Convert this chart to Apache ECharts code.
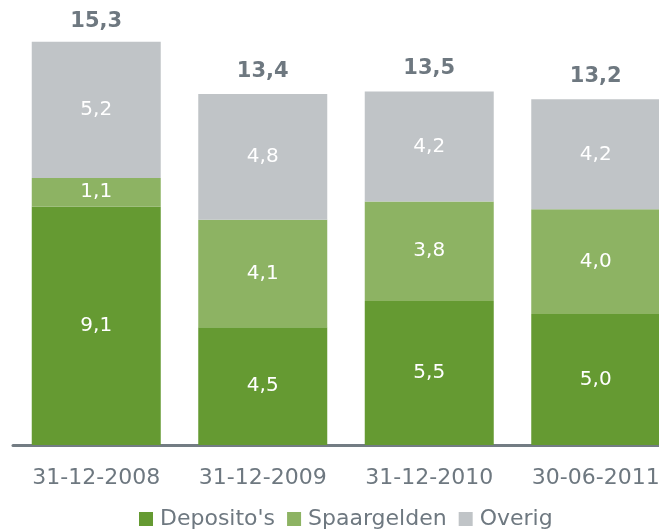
<!DOCTYPE html>
<html>
<head>
<meta charset="utf-8">
<script src="https://cdn.jsdelivr.net/npm/echarts@6/dist/echarts.min.js"></script>
<style>html,body{margin:0;padding:0;background:#fff}#c{width:659px;height:532px}</style>
</head>
<body>
<div id="c"></div>
<script>
const categories = ['31-12-2008', '31-12-2009', '31-12-2010', '30-06-2011'];
const deposito = [9.1, 4.5, 5.5, 5.0];
const spaargelden = [1.1, 4.1, 3.8, 4.0];
const overig = [5.2, 4.8, 4.2, 4.2];
const totals = [15.3, 13.4, 13.5, 13.2];

const FONT = 'DejaVu Sans';
const TXT = '#6E7880';
const fmt = v => v.toFixed(1).replace('.', ',');

const chart = echarts.init(document.getElementById('c'));
const seg = (name, data, color) => ({
  name, type: 'bar', stack: 'a', data, barWidth: 129,
  itemStyle: { color },
  label: { show: true, position: 'inside', color: '#fff', fontFamily: FONT, fontSize: 20,
    formatter: p => fmt(p.value) },
  emphasis: { disabled: true }
});
chart.setOption({
  animation: false,
  grid: { left: 13, width: 666, top: 26, height: 419, outerBoundsMode: 'none', containLabel: false },
  legend: {
    data: ["Deposito's", 'Spaargelden', 'Overig'],
    left: 134, top: 503, itemWidth: 14, itemHeight: 14, itemGap: 12, icon: 'rect',
    textStyle: { color: TXT, fontFamily: FONT, fontSize: 22, padding: [0, 0, 0, 2] }
  },
  xAxis: {
    type: 'category', data: categories,
    axisLine: { lineStyle: { color: '#737C83', width: 3 } },
    axisTick: { show: false },
    axisLabel: { color: TXT, fontFamily: FONT, fontSize: 22, margin: 22, interval: 0 }
  },
  yAxis: { type: 'value', min: 0, max: 16, show: false, splitLine: { show: false } },
  series: [
    seg("Deposito's", deposito, '#659A32'),
    seg('Spaargelden', spaargelden, '#8DB363'),
    seg('Overig', overig, '#C0C4C7'),
    {
      name: 'Totaal', type: 'bar', data: totals, barWidth: 129, barGap: '-100%',
      itemStyle: { color: 'rgba(0,0,0,0)' }, silent: true, z: 1,
      label: { show: true, position: 'top', distance: 12, color: TXT, fontFamily: FONT,
        fontSize: 21, fontWeight: 'bold', formatter: p => fmt(p.value) }
    }
  ]
});
</script>
</body>
</html>
